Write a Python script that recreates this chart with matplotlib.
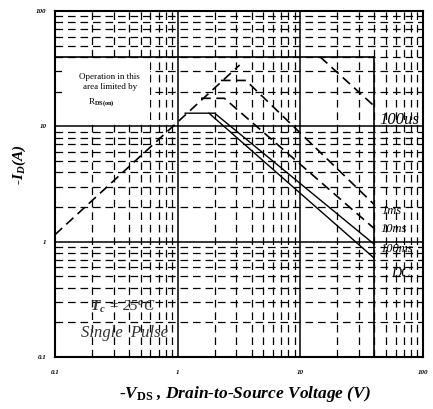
import matplotlib
matplotlib.use("Agg")
import matplotlib.pyplot as plt
from matplotlib.patches import Rectangle
from matplotlib.ticker import LogLocator, NullFormatter

plt.rcParams["font.family"] = ["Liberation Serif", "DejaVu Serif"]
plt.rcParams["mathtext.fontset"] = "custom"
plt.rcParams["mathtext.it"] = "Liberation Serif:italic:bold"
plt.rcParams["mathtext.rm"] = "Liberation Serif:bold"
plt.rcParams["mathtext.bf"] = "Liberation Serif:bold"
plt.rcParams["lines.scale_dashes"] = False

# decade ticks on both axes
decade_ticks = [0.1, 1, 10, 100]
decade_labels = ["0.1", "1", "10", "100"]

# max ratings drawn as solid box edges (V, A)
vds_max = 40
id_max = 40

# SOA boundaries (V, A)
rds_v = [0.1, 3.2]
rds_i = [1.15, 34]
us100_v = [14.5, 40]
us100_i = [40, 15]
ms1_v = [2.25, 3.6, 40]
ms1_i = [25, 25, 2.1]
ms10_v = [1.55, 2.4, 40]
ms10_i = [17.5, 17.5, 1.3]
ms100_v = [1.15, 2.0, 40]
ms100_i = [13, 13, 0.95]
dc_v = [1.8, 40]
dc_i = [13, 0.72]

curve_labels = ["100us", "1ms", "10ms", "100ms", "DC"]

fig = plt.figure(figsize=(4.33, 4.09), dpi=100)
ax = fig.add_axes([55 / 433, 1 - 357 / 409, 368 / 433, 346 / 409])
ax.set_xscale("log")
ax.set_yscale("log")
ax.set_xlim(0.1, 100)
ax.set_ylim(0.1, 100)

for axis in (ax.xaxis, ax.yaxis):
    axis.set_minor_locator(LogLocator(base=10, subs=range(2, 10)))
    axis.set_minor_formatter(NullFormatter())
ax.set_xticks(decade_ticks, decade_labels)
ax.set_yticks(decade_ticks, decade_labels)
ax.tick_params(which="both", length=0, labelsize=5)
ax.tick_params(axis="x", pad=9)
ax.tick_params(axis="y", pad=6)
for lab in ax.get_xticklabels() + ax.get_yticklabels():
    lab.set_fontstyle("italic")
    lab.set_fontweight("bold")

ax.grid(which="major", color="black", lw=1.1, ls="-")
ax.grid(which="minor", color="black", lw=0.9, ls=(0, (5.5, 3.5)))
for sp in ax.spines.values():
    sp.set_linewidth(1.5)

# rating limits
ax.plot([0.1, vds_max], [id_max, id_max], color="black", lw=1.2, zorder=3)
ax.plot([vds_max, vds_max], [0.1, id_max], color="black", lw=1.2, zorder=3)

dash = (0, (7, 4))
ax.plot(rds_v, rds_i, color="black", lw=1.2, ls=dash, zorder=4)
ax.plot(us100_v, us100_i, color="black", lw=1.2, ls=dash, zorder=4)
ax.plot(ms1_v, ms1_i, color="black", lw=1.2, ls=dash, zorder=4)
ax.plot(ms10_v, ms10_i, color="black", lw=1.2, ls=dash, zorder=4)
ax.plot(ms100_v, ms100_i, color="black", lw=1.0, zorder=4)
ax.plot(dc_v, dc_i, color="black", lw=1.0, zorder=4)

# white patch behind the Rds(on) note
ax.add_patch(Rectangle((0.115, 10.5), 0.6 - 0.115, 37 - 10.5,
                       facecolor="white", edgecolor="none", zorder=2.5))
ax.text(0.28, 27, "Operation in this", fontsize=6.5, ha="center", va="center", zorder=5)
ax.text(0.28, 22, "area limited by", fontsize=6.5, ha="center", va="center", zorder=5)
ax.text(0.24, 16, r"R$_{\rm DS(on)}$", fontsize=6.5, ha="center", va="center", zorder=5)

ax.text(0.36, 0.27, r"$T_c$ = 25$^o$C", fontsize=11, ha="center", va="center",
        style="italic", color="#333333", zorder=5)
ax.text(0.37, 0.16, "Single  Pulse", fontsize=12, ha="center", va="center",
        style="italic", color="#333333", zorder=5)

ax.text(44, 11.3, curve_labels[0], fontsize=12, style="italic", va="center", zorder=5)
ax.text(46, 1.86, curve_labels[1], fontsize=9, style="italic", va="center", zorder=5)
ax.text(45, 1.30, curve_labels[2], fontsize=9, style="italic", va="center", zorder=5)
ax.text(45, 0.87, curve_labels[3], fontsize=9, style="italic", va="center", zorder=5)
ax.text(55, 0.53, curve_labels[4], fontsize=10, style="italic", va="center", zorder=5)

fig.text(245 / 433, 1 - 394 / 409, r"-$V_{\rm DS}$ , Drain-to-Source Voltage (V)",
         fontsize=12.5, style="italic", weight="bold", ha="center", va="center")
fig.text(19 / 433, 1 - 165 / 409, r"-$I_D$(A)", fontsize=11, style="italic",
         weight="bold", rotation=90, ha="center", va="center")

fig.savefig("out.png", dpi=100)
